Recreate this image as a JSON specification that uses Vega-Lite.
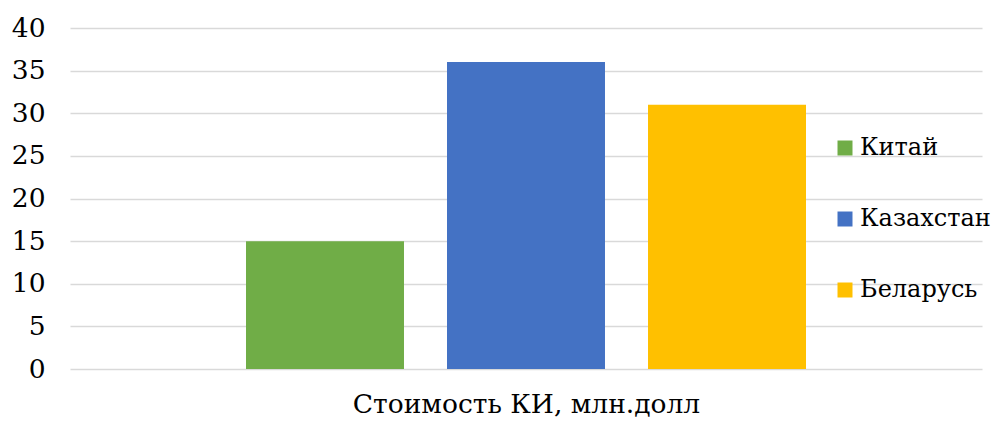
{
  "$schema": "https://vega.github.io/schema/vega-lite/v6.json",
  "width": 912,
  "height": 341,
  "autosize": {"type": "none"},
  "padding": {"left": 70, "top": 28, "right": 21, "bottom": 52},
  "background": "white",
  "config": {
    "font": "DejaVu Serif",
    "view": {"stroke": null}
  },
  "data": {
    "values": [
      {"country": "Китай", "value": 15},
      {"country": "Казахстан", "value": 36},
      {"country": "Беларусь", "value": 31}
    ]
  },
  "mark": {"type": "bar"},
  "encoding": {
    "x": {
      "field": "country",
      "type": "nominal",
      "sort": ["Китай", "Казахстан", "Беларусь"],
      "scale": {"paddingInner": 0.214, "paddingOuter": 0.8756},
      "axis": {
        "title": "Стоимость КИ, млн.долл",
        "titleFont": "DejaVu Serif",
        "titleFontSize": 26.5,
        "titleFontWeight": "normal",
        "titleColor": "#000000",
        "titlePadding": 22,
        "labels": false,
        "ticks": false,
        "domain": false,
        "grid": false
      }
    },
    "y": {
      "field": "value",
      "type": "quantitative",
      "scale": {"domain": [0, 40]},
      "axis": {
        "title": null,
        "values": [0, 5, 10, 15, 20, 25, 30, 35, 40],
        "labelFont": "DejaVu Serif",
        "labelFontSize": 26.5,
        "labelColor": "#000000",
        "labelPadding": 25,
        "ticks": false,
        "domain": false,
        "grid": true,
        "gridColor": "#D9D9D9",
        "gridWidth": 1.5
      }
    },
    "color": {
      "field": "country",
      "type": "nominal",
      "sort": ["Китай", "Казахстан", "Беларусь"],
      "scale": {
        "domain": ["Китай", "Казахстан", "Беларусь"],
        "range": ["#70AD47", "#4472C4", "#FFC000"]
      },
      "legend": {
        "title": null,
        "orient": "none",
        "legendX": 763,
        "legendY": 108,
        "symbolType": "square",
        "symbolSize": 225,
        "symbolStrokeWidth": 0,
        "labelFont": "DejaVu Serif",
        "labelFontSize": 24,
        "labelColor": "#000000",
        "labelOffset": 3,
        "rowPadding": 47,
        "labelLimit": 300
      }
    }
  }
}
